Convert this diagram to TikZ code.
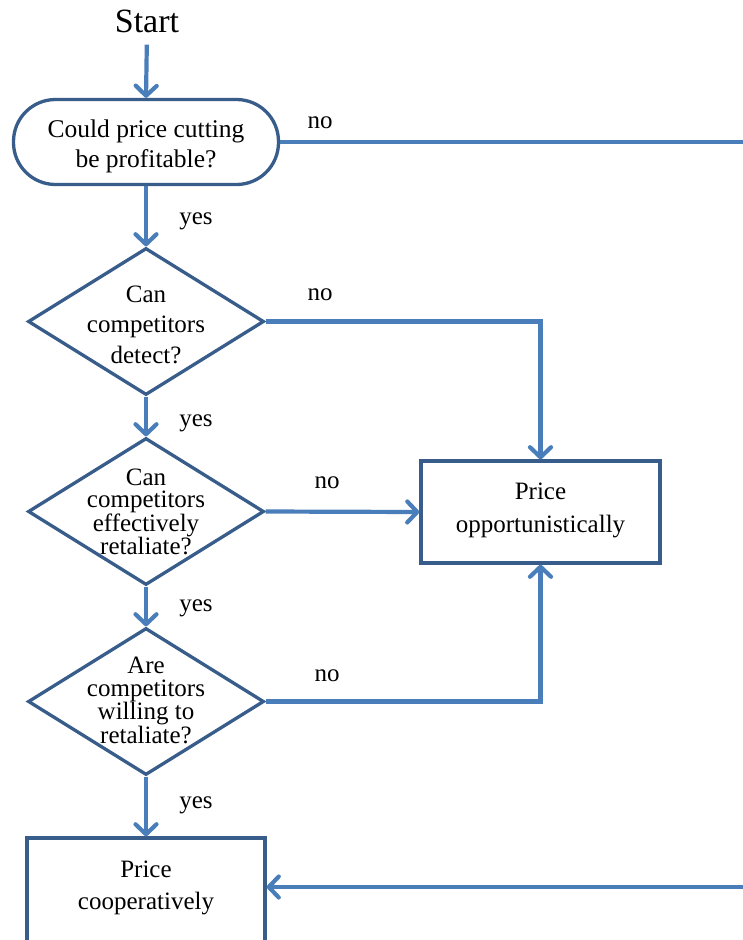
\documentclass[tikz,border=0pt]{standalone}
\usepackage{fontspec}
\setmainfont{Liberation Serif}
\usetikzlibrary{shapes.geometric,arrows.meta}
\definecolor{lineblue}{RGB}{74,126,187}
\definecolor{boxblue}{RGB}{56,93,138}
\tikzset{
  shapebox/.style={draw=boxblue, line width=3.3pt, fill=white, inner sep=0pt},
  decision/.style={shapebox, diamond, minimum width=236pt, minimum height=147pt},
  actionbox/.style={shapebox, rectangle, minimum width=239pt, minimum height=102pt},
  txt/.style={font=\fontsize{25}{#1}\selectfont, align=center, inner sep=0pt},
  txt/.default=30,
  lbl/.style={font=\fontsize{25}{28}\selectfont, anchor=base, inner sep=0pt},
  conn/.style={draw=lineblue, line width=4.2pt},
  arr/.style={conn, -{Straight Barb[length=10pt,width=21pt,round]}}
}
\begin{document}
\begin{tikzpicture}[x=1pt,y=-1pt]
\useasboundingbox (0,0) rectangle (743,940);
\clip (0,0) rectangle (743,940);
\fill[white] (0,0) rectangle (743,940);

% shapes
\node[shapebox, rectangle, rounded corners=42pt, minimum width=265pt, minimum height=85pt] (r0) at (146,142) {};
\node[decision] (d1) at (146,321.5) {};
\node[decision] (d2) at (146,511.5) {};
\node[decision] (d3) at (146,701.5) {};
\node[actionbox] (opp) at (540.5,512) {};
\node[shapebox, rectangle, minimum width=238pt, minimum height=106pt] (coop) at (146,891) {};

% texts
\node[font=\fontsize{34}{38}\selectfont, anchor=base, inner sep=0pt] (start) at (147,32) {Start};
\node[txt=30, font=\fontsize{25.5}{30}\selectfont] (r0t) at (146,146) {Could price cutting\\be profitable?};
\node[txt=30.5] (d1t) at (146,324.5) {Can\\competitors\\detect?};
\node[txt=22] (d2t) at (146,512) {Can\\competitors\\effectively\\retaliate?};
\node[txt=22.3] (d3t) at (146,700.5) {Are\\competitors\\willing to\\retaliate?};
\node[txt=32.5] (oppt) at (540.5,510.5) {Price\\opportunistically};
\node[txt=32] (coopt) at (146,888) {Price\\cooperatively};

% labels
\node[lbl] (n1) at (320,128) {no};
\node[lbl] (y1) at (196,224) {yes};
\node[lbl] (n2) at (320,300) {no};
\node[lbl] (y2) at (196,426) {yes};
\node[lbl] (n3) at (327,488) {no};
\node[lbl] (y3) at (196,611) {yes};
\node[lbl] (n4) at (327,681) {no};
\node[lbl] (y4) at (196,808) {yes};

% free ends at the right edge
\coordinate (e1) at (745,142);
\coordinate (e2) at (745,887);

% connectors
\draw[arr, shorten <=12pt] (start.south) -- (r0.north);
\draw[conn] (r0.east) -- (e1);
\draw[arr] (r0.south) -- (d1.north);
\draw[arr] (d1.east) -| (opp.north);
\draw[arr] (d1.south) -- (d2.north);
\draw[arr] (d2.east) -- (opp.west);
\draw[arr] (d2.south) -- (d3.north);
\draw[arr] (d3.east) -| (opp.south);
\draw[arr] (d3.south) -- (coop.north);
\draw[arr] (e2) -- (coop.east |- e2);
\end{tikzpicture}
\end{document}
